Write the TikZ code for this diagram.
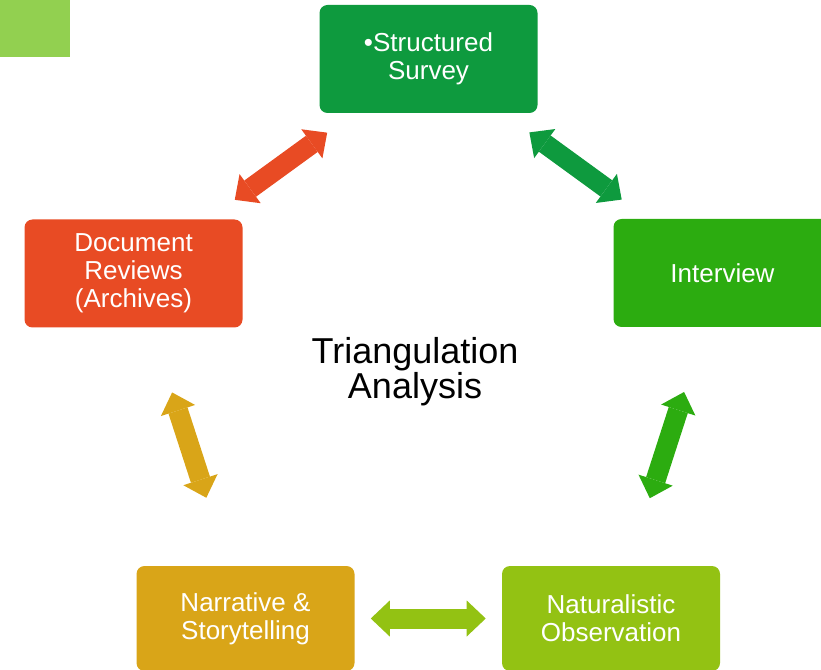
\documentclass[tikz,border=0pt]{standalone}
\usepackage{fontspec}
\setmainfont{Liberation Sans}
\usetikzlibrary{arrows.meta}
\definecolor{sqgreen}{RGB}{146,208,80}
\definecolor{cTop}{RGB}{14,154,62}
\definecolor{cRight}{RGB}{44,172,16}
\definecolor{cLeft}{RGB}{232,75,36}
\definecolor{cBL}{RGB}{217,165,24}
\definecolor{cBR}{RGB}{147,194,19}
\tikzset{
  box/.style={rectangle, rounded corners=6pt, minimum width=163.5pt, minimum height=81pt,
    inner sep=0pt, align=center, text=white, font=\fontsize{19.5pt}{21pt}\selectfont},
  bigarrow/.style={line width=15pt, line cap=butt,
    {Triangle[length=14.25pt, width=27pt, line width=0pt]}-{Triangle[length=14.25pt, width=27pt, line width=0pt]}},
}
\begin{document}
\begin{tikzpicture}[x=0.75pt, y=-0.75pt]
\useasboundingbox (0,0) rectangle (821,670);
\fill[sqgreen] (0,0) rectangle (70,57);
\node[box, fill=cTop] (top) at (428.5,59) {\textbullet Structured\\Survey};
\node[box, fill=cRight] (right) at (722.5,273) {Interview};
\node[box, fill=cLeft] (left) at (133.5,273.5) {Document\\Reviews\\(Archives)};
\node[box, fill=cBL, minimum height=78.75pt] (bl) at (245.5,618.5) {Narrative \&\\Storytelling};
\node[box, fill=cBR, minimum height=78.75pt] (br) at (611,618.5) {Naturalistic\\Observation};
\node[font=\fontsize{27pt}{26.25pt}\selectfont, align=center] (center) at (415,372) {Triangulation\\Analysis};
\draw[bigarrow, draw=cLeft, fill=cLeft, shorten <=24.75pt, shorten >=24.75pt] (top) -- (left);
\draw[bigarrow, draw=cTop, fill=cTop, shorten <=24.4pt, shorten >=24.4pt] (top) -- (right);
\draw[bigarrow, draw=cBL, fill=cBL, shorten <=51pt, shorten >=53.6pt] (left) -- (bl);
\draw[bigarrow, draw=cRight, fill=cRight, shorten <=51pt, shorten >=53.2pt] (right) -- (br);
\draw[bigarrow, draw=cBR, fill=cBR, shorten <=12pt, shorten >=12pt] (bl) -- (br);
\end{tikzpicture}
\end{document}
